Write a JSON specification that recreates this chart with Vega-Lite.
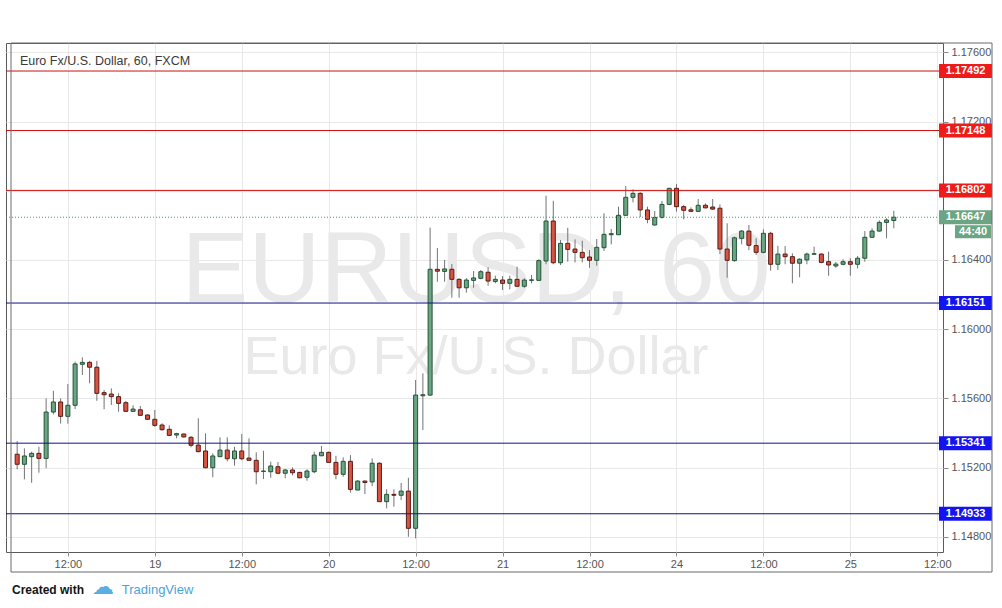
{
  "$schema": "https://vega.github.io/schema/vega-lite/v6.json",
  "width": 937,
  "height": 509,
  "autosize": {"type": "none"},
  "padding": {"left": 6, "top": 43, "right": 59, "bottom": 56},
  "background": "#ffffff",
  "config": {
    "view": {"stroke": "#5a5a5a", "strokeWidth": 1},
    "font": "Liberation Sans",
    "axis": {"labelFont": "Liberation Sans", "labelFontSize": 11, "labelColor": "#555555", "gridColor": "#e8e8e8", "tickColor": "#8a8a8a", "domain": false}
  },
  "datasets": {
    "candles": [
      {"i":-7,"o":1.15277,"h":1.15353,"l":1.15190,"c":1.15219},
      {"i":-6,"o":1.15219,"h":1.15311,"l":1.15132,"c":1.15267},
      {"i":-5,"o":1.15263,"h":1.15292,"l":1.15112,"c":1.15282},
      {"i":-4,"o":1.15282,"h":1.15320,"l":1.15170,"c":1.15253},
      {"i":-3,"o":1.15253,"h":1.15600,"l":1.15196,"c":1.15521},
      {"i":-2,"o":1.15521,"h":1.15644,"l":1.15508,"c":1.15579},
      {"i":-1,"o":1.15579,"h":1.15600,"l":1.15454,"c":1.15496},
      {"i":0,"o":1.15496,"h":1.15683,"l":1.15454,"c":1.15560},
      {"i":1,"o":1.15560,"h":1.15812,"l":1.15538,"c":1.15799},
      {"i":2,"o":1.15797,"h":1.15837,"l":1.15735,"c":1.15808},
      {"i":3,"o":1.15808,"h":1.15817,"l":1.15687,"c":1.15780},
      {"i":4,"o":1.15780,"h":1.15817,"l":1.15586,"c":1.15629},
      {"i":5,"o":1.15633,"h":1.15648,"l":1.15537,"c":1.15621},
      {"i":6,"o":1.15625,"h":1.15658,"l":1.15562,"c":1.15610},
      {"i":7,"o":1.15610,"h":1.15629,"l":1.15523,"c":1.15571},
      {"i":8,"o":1.15575,"h":1.15585,"l":1.15523,"c":1.15525},
      {"i":9,"o":1.15525,"h":1.15560,"l":1.15523,"c":1.15538},
      {"i":10,"o":1.15534,"h":1.15556,"l":1.15498,"c":1.15502},
      {"i":11,"o":1.15504,"h":1.15508,"l":1.15475,"c":1.15479},
      {"i":12,"o":1.15479,"h":1.15533,"l":1.15436,"c":1.15444},
      {"i":13,"o":1.15446,"h":1.15456,"l":1.15413,"c":1.15419},
      {"i":14,"o":1.15421,"h":1.15444,"l":1.15382,"c":1.15386},
      {"i":15,"o":1.15388,"h":1.15401,"l":1.15369,"c":1.15396},
      {"i":16,"o":1.15394,"h":1.15397,"l":1.15374,"c":1.15377},
      {"i":17,"o":1.15375,"h":1.15382,"l":1.15317,"c":1.15329},
      {"i":18,"o":1.15330,"h":1.15485,"l":1.15288,"c":1.15292},
      {"i":19,"o":1.15296,"h":1.15398,"l":1.15196,"c":1.15199},
      {"i":20,"o":1.15199,"h":1.15282,"l":1.15144,"c":1.15267},
      {"i":21,"o":1.15263,"h":1.15375,"l":1.15263,"c":1.15301},
      {"i":22,"o":1.15301,"h":1.15375,"l":1.15236,"c":1.15251},
      {"i":23,"o":1.15251,"h":1.15320,"l":1.15211,"c":1.15296},
      {"i":24,"o":1.15296,"h":1.15394,"l":1.15242,"c":1.15251},
      {"i":25,"o":1.15255,"h":1.15369,"l":1.15240,"c":1.15242},
      {"i":26,"o":1.15242,"h":1.15288,"l":1.15103,"c":1.15176},
      {"i":27,"o":1.15178,"h":1.15297,"l":1.15134,"c":1.15180},
      {"i":28,"o":1.15176,"h":1.15234,"l":1.15141,"c":1.15209},
      {"i":29,"o":1.15205,"h":1.15232,"l":1.15165,"c":1.15167},
      {"i":30,"o":1.15167,"h":1.15192,"l":1.15138,"c":1.15186},
      {"i":31,"o":1.15186,"h":1.15201,"l":1.15155,"c":1.15170},
      {"i":32,"o":1.15172,"h":1.15176,"l":1.15138,"c":1.15141},
      {"i":33,"o":1.15144,"h":1.15190,"l":1.15124,"c":1.15180},
      {"i":34,"o":1.15176,"h":1.15292,"l":1.15167,"c":1.15272},
      {"i":35,"o":1.15268,"h":1.15325,"l":1.15267,"c":1.15288},
      {"i":36,"o":1.15288,"h":1.15292,"l":1.15228,"c":1.15230},
      {"i":37,"o":1.15230,"h":1.15268,"l":1.15132,"c":1.15161},
      {"i":38,"o":1.15161,"h":1.15259,"l":1.15147,"c":1.15236},
      {"i":39,"o":1.15236,"h":1.15272,"l":1.15055,"c":1.15074},
      {"i":40,"o":1.15070,"h":1.15127,"l":1.15070,"c":1.15122},
      {"i":41,"o":1.15122,"h":1.15125,"l":1.15047,"c":1.15114},
      {"i":42,"o":1.15117,"h":1.15253,"l":1.15093,"c":1.15225},
      {"i":43,"o":1.15225,"h":1.15230,"l":1.15001,"c":1.15003},
      {"i":44,"o":1.15003,"h":1.15074,"l":1.14964,"c":1.15045},
      {"i":45,"o":1.15045,"h":1.15074,"l":1.14974,"c":1.15040},
      {"i":46,"o":1.15040,"h":1.15111,"l":1.15012,"c":1.15064},
      {"i":47,"o":1.15064,"h":1.15141,"l":1.14800,"c":1.14849},
      {"i":48,"o":1.14849,"h":1.15706,"l":1.14791,"c":1.15619},
      {"i":49,"o":1.15615,"h":1.15745,"l":1.15417,"c":1.15621},
      {"i":50,"o":1.15619,"h":1.16587,"l":1.15614,"c":1.16346},
      {"i":51,"o":1.16346,"h":1.16469,"l":1.16274,"c":1.16335},
      {"i":52,"o":1.16334,"h":1.16400,"l":1.16274,"c":1.16348},
      {"i":53,"o":1.16346,"h":1.16376,"l":1.16182,"c":1.16288},
      {"i":54,"o":1.16288,"h":1.16294,"l":1.16182,"c":1.16239},
      {"i":55,"o":1.16239,"h":1.16295,"l":1.16211,"c":1.16284},
      {"i":56,"o":1.16282,"h":1.16336,"l":1.16239,"c":1.16296},
      {"i":57,"o":1.16294,"h":1.16342,"l":1.16288,"c":1.16332},
      {"i":58,"o":1.16329,"h":1.16358,"l":1.16251,"c":1.16278},
      {"i":59,"o":1.16276,"h":1.16309,"l":1.16265,"c":1.16288},
      {"i":60,"o":1.16284,"h":1.16307,"l":1.16226,"c":1.16265},
      {"i":61,"o":1.16265,"h":1.16309,"l":1.16230,"c":1.16288},
      {"i":62,"o":1.16288,"h":1.16361,"l":1.16246,"c":1.16248},
      {"i":63,"o":1.16248,"h":1.16294,"l":1.16239,"c":1.16284},
      {"i":64,"o":1.16282,"h":1.16313,"l":1.16265,"c":1.16285},
      {"i":65,"o":1.16282,"h":1.16404,"l":1.16282,"c":1.16396},
      {"i":66,"o":1.16394,"h":1.16771,"l":1.16375,"c":1.16625},
      {"i":67,"o":1.16625,"h":1.16742,"l":1.16375,"c":1.16384},
      {"i":68,"o":1.16384,"h":1.16515,"l":1.16371,"c":1.16496},
      {"i":69,"o":1.16496,"h":1.16586,"l":1.16390,"c":1.16461},
      {"i":70,"o":1.16463,"h":1.16519,"l":1.16386,"c":1.16444},
      {"i":71,"o":1.16444,"h":1.16511,"l":1.16386,"c":1.16413},
      {"i":72,"o":1.16417,"h":1.16457,"l":1.16355,"c":1.16398},
      {"i":73,"o":1.16398,"h":1.16521,"l":1.16367,"c":1.16473},
      {"i":74,"o":1.16471,"h":1.16670,"l":1.16452,"c":1.16548},
      {"i":75,"o":1.16546,"h":1.16579,"l":1.16490,"c":1.16552},
      {"i":76,"o":1.16546,"h":1.16708,"l":1.16544,"c":1.16658},
      {"i":77,"o":1.16658,"h":1.16827,"l":1.16658,"c":1.16762},
      {"i":78,"o":1.16762,"h":1.16808,"l":1.16733,"c":1.16785},
      {"i":79,"o":1.16785,"h":1.16791,"l":1.16648,"c":1.16689},
      {"i":80,"o":1.16689,"h":1.16708,"l":1.16612,"c":1.16635},
      {"i":81,"o":1.16602,"h":1.16683,"l":1.16598,"c":1.16646},
      {"i":82,"o":1.16646,"h":1.16741,"l":1.16640,"c":1.16721},
      {"i":83,"o":1.16721,"h":1.16817,"l":1.16717,"c":1.16814},
      {"i":84,"o":1.16814,"h":1.16839,"l":1.16679,"c":1.16708},
      {"i":85,"o":1.16708,"h":1.16717,"l":1.16635,"c":1.16687},
      {"i":86,"o":1.16690,"h":1.16704,"l":1.16679,"c":1.16681},
      {"i":87,"o":1.16681,"h":1.16752,"l":1.16679,"c":1.16716},
      {"i":88,"o":1.16716,"h":1.16727,"l":1.16699,"c":1.16701},
      {"i":89,"o":1.16706,"h":1.16752,"l":1.16689,"c":1.16694},
      {"i":90,"o":1.16699,"h":1.16721,"l":1.16433,"c":1.16463},
      {"i":91,"o":1.16463,"h":1.16612,"l":1.16297,"c":1.16398},
      {"i":92,"o":1.16396,"h":1.16535,"l":1.16390,"c":1.16528},
      {"i":93,"o":1.16525,"h":1.16573,"l":1.16490,"c":1.16567},
      {"i":94,"o":1.16567,"h":1.16602,"l":1.16457,"c":1.16485},
      {"i":95,"o":1.16483,"h":1.16525,"l":1.16429,"c":1.16444},
      {"i":96,"o":1.16444,"h":1.16577,"l":1.16438,"c":1.16554},
      {"i":97,"o":1.16554,"h":1.16563,"l":1.16338,"c":1.16375},
      {"i":98,"o":1.16375,"h":1.16482,"l":1.16342,"c":1.16434},
      {"i":99,"o":1.16434,"h":1.16481,"l":1.16375,"c":1.16419},
      {"i":100,"o":1.16419,"h":1.16438,"l":1.16265,"c":1.16381},
      {"i":101,"o":1.16381,"h":1.16410,"l":1.16300,"c":1.16404},
      {"i":102,"o":1.16400,"h":1.16442,"l":1.16375,"c":1.16434},
      {"i":103,"o":1.16433,"h":1.16477,"l":1.16433,"c":1.16436},
      {"i":104,"o":1.16434,"h":1.16438,"l":1.16381,"c":1.16386},
      {"i":105,"o":1.16390,"h":1.16448,"l":1.16309,"c":1.16371},
      {"i":106,"o":1.16365,"h":1.16388,"l":1.16355,"c":1.16376},
      {"i":107,"o":1.16375,"h":1.16404,"l":1.16369,"c":1.16390},
      {"i":108,"o":1.16390,"h":1.16410,"l":1.16309,"c":1.16375},
      {"i":109,"o":1.16375,"h":1.16423,"l":1.16351,"c":1.16410},
      {"i":110,"o":1.16410,"h":1.16567,"l":1.16390,"c":1.16531},
      {"i":111,"o":1.16531,"h":1.16583,"l":1.16529,"c":1.16567},
      {"i":112,"o":1.16567,"h":1.16629,"l":1.16563,"c":1.16617},
      {"i":113,"o":1.16617,"h":1.16640,"l":1.16525,"c":1.16631},
      {"i":114,"o":1.16628,"h":1.16685,"l":1.16583,"c":1.16647}
    ],
    "levels": [
      {"price":1.17492,"kind":"resistance"},
      {"price":1.17148,"kind":"resistance"},
      {"price":1.16802,"kind":"resistance"},
      {"price":1.16151,"kind":"support"},
      {"price":1.15341,"kind":"support"},
      {"price":1.14933,"kind":"support"},
      {"price":1.16647,"kind":"last"}
    ],
    "timer": [{"price":1.16647,"label":"44:40"}]
  },
  "layer": [
    {
      "data": {"values": [{}]},
      "mark": {"type": "text", "text": "EURUSD, 60", "fontSize": 100, "font": "Liberation Sans", "color": "#e9e9e9", "align": "center", "baseline": "alphabetic"},
      "encoding": {
        "x": {"datum": 56.33, "type": "quantitative", "scale": {"domain": [-7.85, 120.1], "nice": false, "zero": false}, "title": null,
          "axis": {"values": [0,12,24,36,48,60,72,84,96,108,120], "labelExpr": "datum.value == 12 ? '19' : datum.value == 36 ? '20' : datum.value == 60 ? '21' : datum.value == 84 ? '24' : datum.value == 108 ? '25' : '12:00'", "grid": true, "ticks": true, "tickSize": 4, "labelPadding": 2, "labelFlush": false, "labelOverlap": false, "title": null}},
        "y": {"datum": 1.16157, "type": "quantitative", "scale": {"domain": [1.14712, 1.17654], "nice": false, "zero": false}, "title": null,
          "axis": {"orient": "right", "values": [1.148,1.15,1.152,1.154,1.156,1.158,1.16,1.162,1.164,1.166,1.168,1.17,1.172,1.174,1.176], "format": ".5f", "grid": true, "ticks": true, "tickSize": 5, "labelPadding": 3, "title": null}}
      }
    },
    {
      "data": {"values": [{}]},
      "mark": {"type": "text", "text": "Euro Fx/U.S. Dollar", "fontSize": 54, "font": "Liberation Sans", "color": "#e9e9e9", "align": "center", "baseline": "alphabetic"},
      "encoding": {
        "x": {"datum": 56.33, "type": "quantitative", "title": null},
        "y": {"datum": 1.15741, "type": "quantitative", "title": null}
      }
    },
    {
      "data": {"name": "candles"},
      "mark": {"type": "rule", "color": "#737375", "strokeWidth": 1},
      "encoding": {
        "x": {"field": "i", "type": "quantitative", "title": null},
        "y": {"field": "l", "type": "quantitative", "title": null},
        "y2": {"field": "h"}
      }
    },
    {
      "data": {"name": "candles"},
      "mark": {"type": "bar", "size": 4, "strokeWidth": 1},
      "encoding": {
        "x": {"field": "i", "type": "quantitative", "title": null},
        "y": {"field": "o", "type": "quantitative", "title": null},
        "y2": {"field": "c"},
        "fill": {"condition": {"test": "datum.c >= datum.o", "value": "#6ba583"}, "value": "#d75442"},
        "stroke": {"condition": {"test": "datum.c >= datum.o", "value": "#225437"}, "value": "#5b1a13"}
      }
    },
    {
      "data": {"name": "levels"},
      "transform": [{"filter": "datum.kind != 'last'"}],
      "mark": {"type": "rule", "strokeWidth": 1},
      "encoding": {
        "y": {"field": "price", "type": "quantitative", "title": null},
        "stroke": {"field": "kind", "type": "nominal", "scale": {"domain": ["resistance", "support"], "range": ["#cc1111", "#10108a"]}, "legend": null}
      }
    },
    {
      "data": {"name": "levels"},
      "transform": [{"filter": "datum.kind == 'last'"}],
      "mark": {"type": "rule", "strokeWidth": 1, "strokeDash": [1, 2], "color": "#4f9470"},
      "encoding": {
        "y": {"field": "price", "type": "quantitative", "title": null}
      }
    },
    {
      "data": {"values": [{"title": "Euro Fx/U.S. Dollar, 60, FXCM"}]},
      "mark": {"type": "text", "fontSize": 12.5, "font": "Liberation Sans", "color": "#3a3a3a", "align": "left", "baseline": "alphabetic"},
      "encoding": {
        "x": {"datum": -6.62, "type": "quantitative", "title": null},
        "y": {"datum": 1.17524, "type": "quantitative", "title": null},
        "text": {"field": "title"}
      }
    },
    {
      "data": {"name": "levels"},
      "mark": {"type": "rect", "xOffset": 1, "x2Offset": 54, "yOffset": -7, "y2Offset": 7},
      "encoding": {
        "x": {"datum": 120.1, "type": "quantitative", "title": null},
        "x2": {"datum": 120.1},
        "y": {"field": "price", "type": "quantitative", "title": null},
        "y2": {"field": "price"},
        "fill": {"field": "kind", "type": "nominal", "scale": {"domain": ["resistance", "support", "last"], "range": ["#ee1b1b", "#1414ee", "#6ba583"]}, "legend": null}
      }
    },
    {
      "data": {"name": "levels"},
      "mark": {"type": "text", "dx": 27.5, "align": "center", "baseline": "middle", "fontSize": 11, "fontWeight": "bold", "font": "Liberation Sans", "color": "#ffffff"},
      "encoding": {
        "x": {"datum": 120.1, "type": "quantitative", "title": null},
        "y": {"field": "price", "type": "quantitative", "title": null},
        "text": {"field": "price", "type": "quantitative", "format": ".5f"}
      }
    },
    {
      "data": {"name": "timer"},
      "mark": {"type": "rect", "xOffset": 17, "x2Offset": 53, "yOffset": 8, "y2Offset": 21, "color": "#6ba583"},
      "encoding": {
        "x": {"datum": 120.1, "type": "quantitative", "title": null},
        "x2": {"datum": 120.1},
        "y": {"field": "price", "type": "quantitative", "title": null},
        "y2": {"field": "price"}
      }
    },
    {
      "data": {"name": "timer"},
      "mark": {"type": "text", "dx": 35, "dy": 14.5, "align": "center", "baseline": "middle", "fontSize": 11, "fontWeight": "bold", "font": "Liberation Sans", "color": "#ffffff"},
      "encoding": {
        "x": {"datum": 120.1, "type": "quantitative", "title": null},
        "y": {"field": "price", "type": "quantitative", "title": null},
        "text": {"field": "label"}
      }
    },
    {
      "data": {"values": [{}]},
      "mark": {"type": "rect", "fill": null, "fillOpacity": 0, "stroke": "#6a6a6a", "strokeWidth": 1, "x2Offset": 54, "y2Offset": 20},
      "encoding": {
        "x": {"datum": -7.85, "type": "quantitative", "title": null},
        "x2": {"datum": 120.1},
        "y": {"datum": 1.17654, "type": "quantitative", "title": null},
        "y2": {"datum": 1.14712}
      }
    },
    {
      "data": {"values": [{}]},
      "mark": {"type": "text", "text": "Created with", "fontSize": 12, "fontWeight": "bold", "font": "Liberation Sans", "color": "#131313", "align": "left", "baseline": "alphabetic"},
      "encoding": {
        "x": {"datum": -7.71, "type": "quantitative", "title": null},
        "y": {"datum": 1.14469, "type": "quantitative", "title": null}
      }
    },
    {
      "data": {"values": [{}]},
      "mark": {"type": "text", "text": "☁", "fontSize": 22, "font": "DejaVu Sans", "color": "#5aafe0", "align": "center", "baseline": "alphabetic"},
      "encoding": {
        "x": {"datum": 4.85, "type": "quantitative", "title": null},
        "y": {"datum": 1.14469, "type": "quantitative", "title": null}
      }
    },
    {
      "data": {"values": [{}]},
      "mark": {"type": "text", "text": "TradingView", "fontSize": 13, "font": "Liberation Sans", "color": "#47a5da", "align": "left", "baseline": "alphabetic"},
      "encoding": {
        "x": {"datum": 7.44, "type": "quantitative", "title": null},
        "y": {"datum": 1.14469, "type": "quantitative", "title": null}
      }
    }
  ]
}
